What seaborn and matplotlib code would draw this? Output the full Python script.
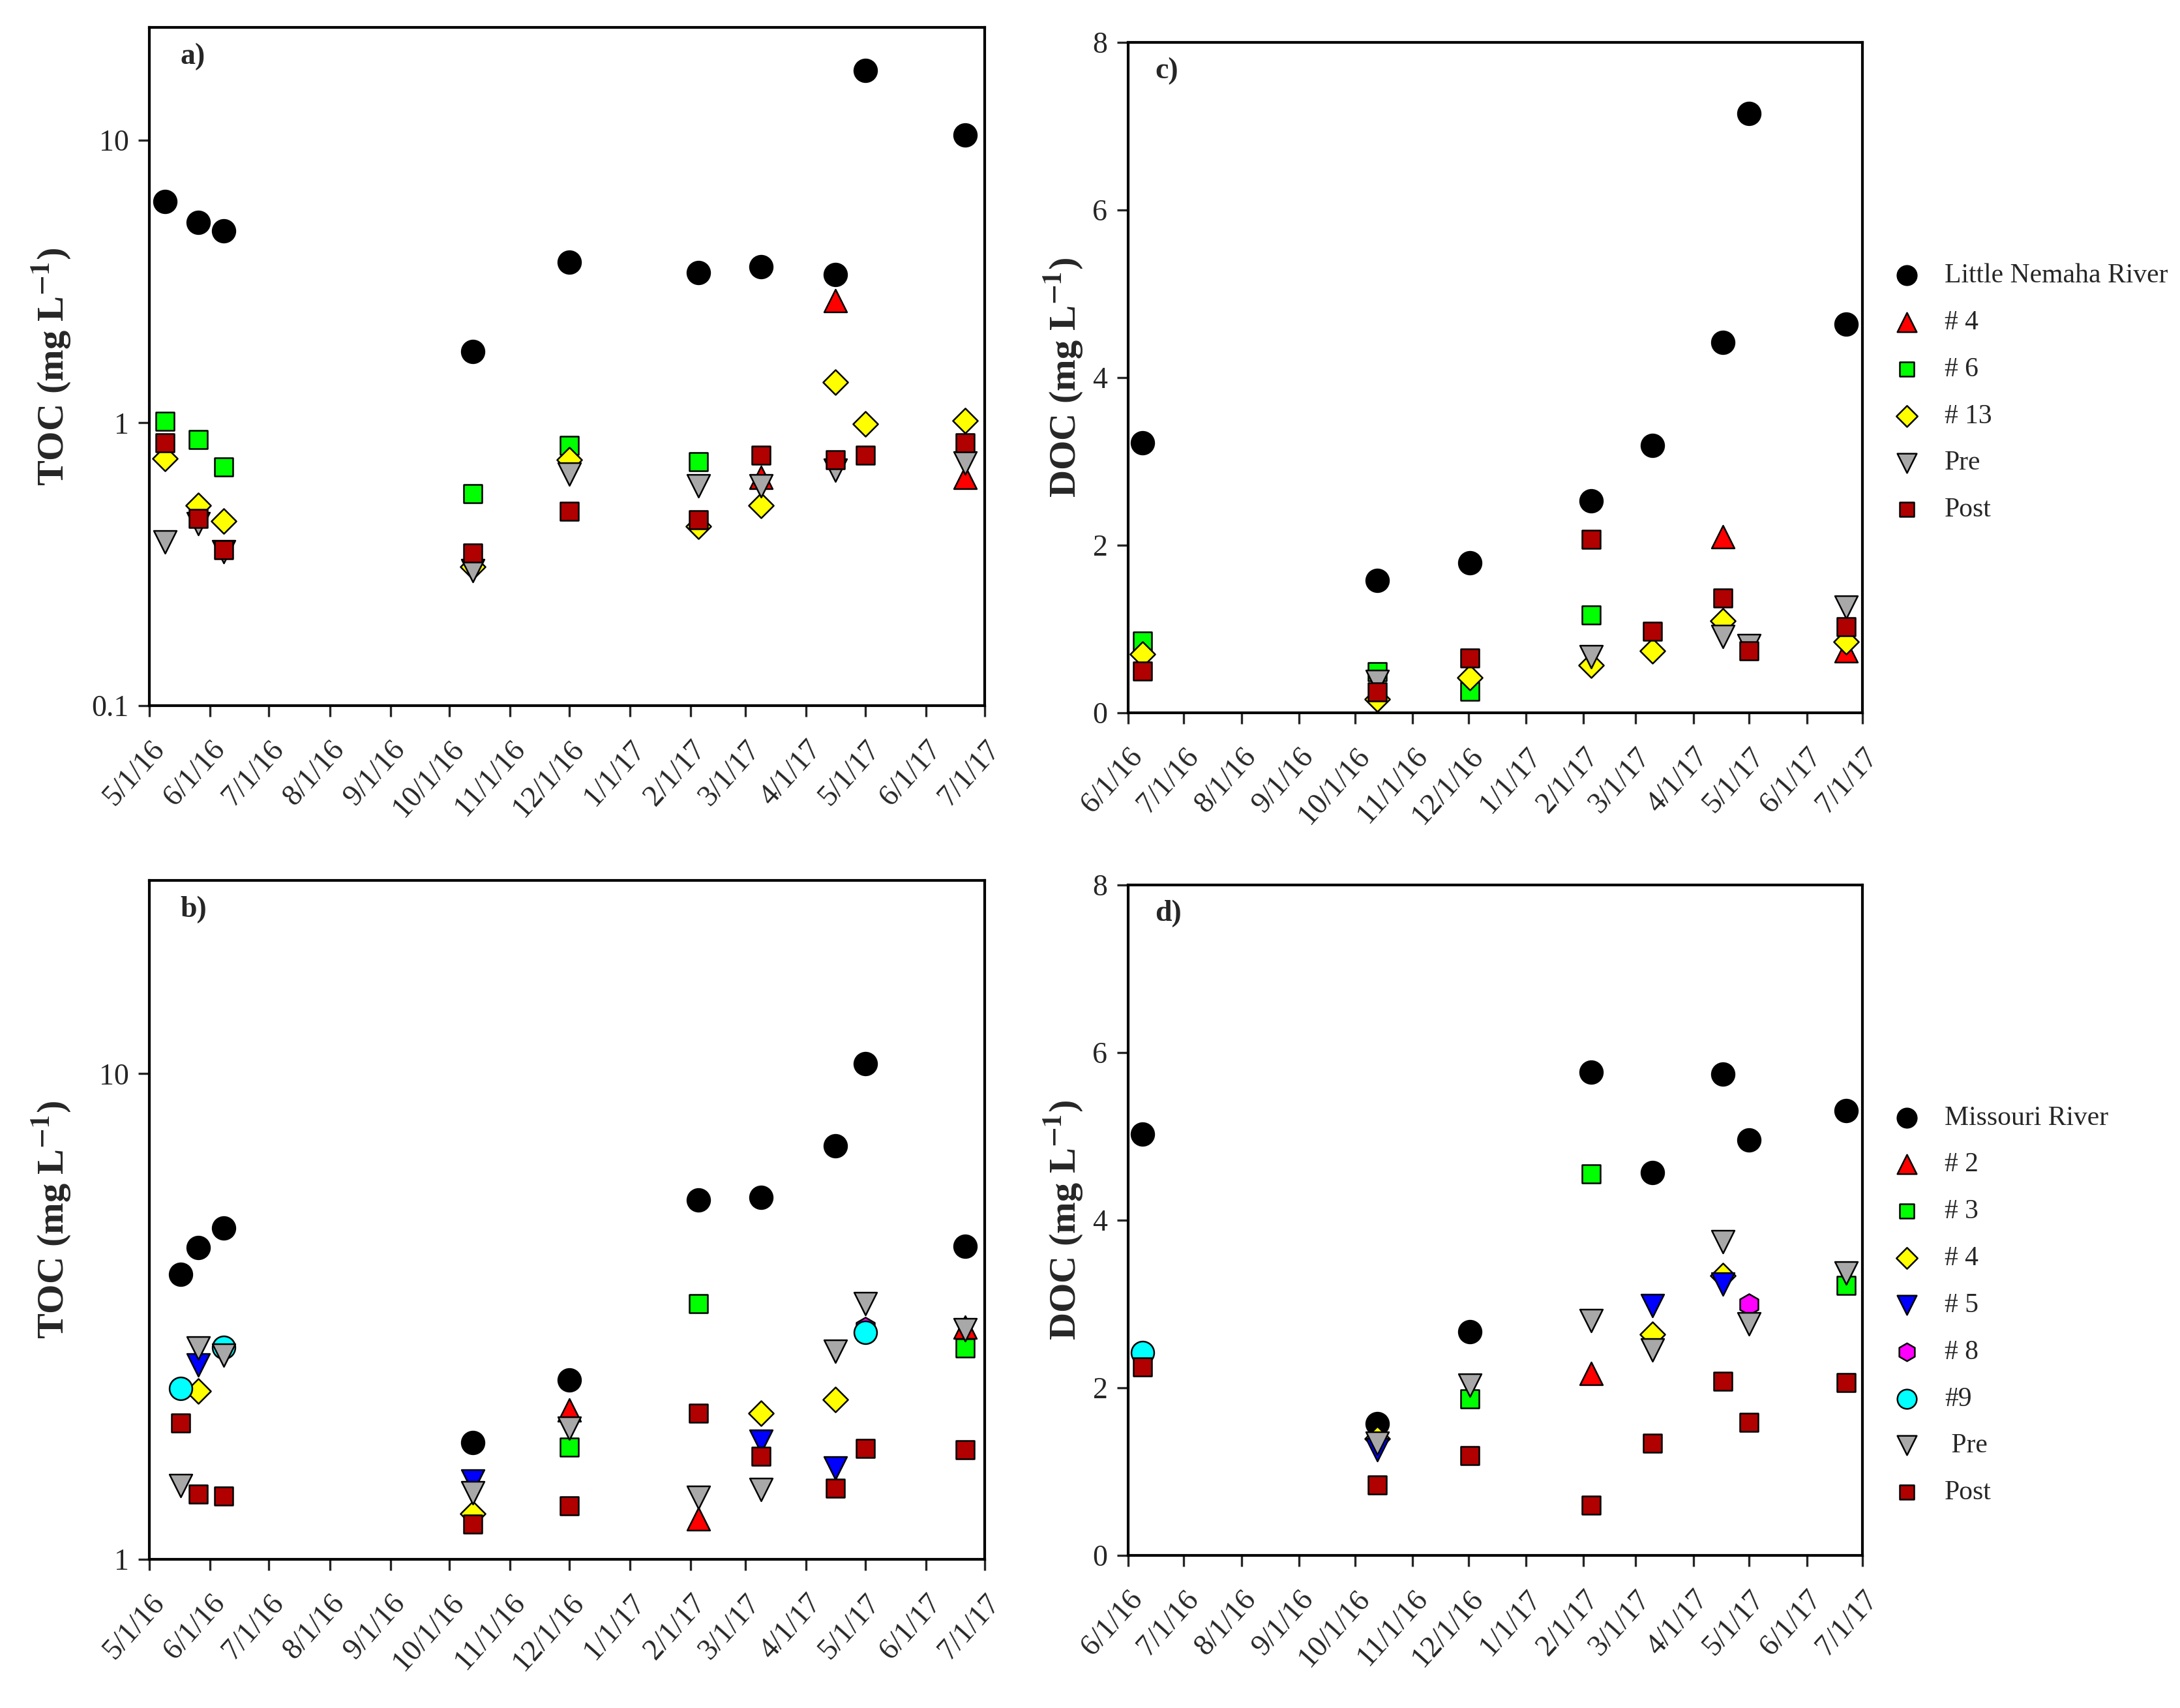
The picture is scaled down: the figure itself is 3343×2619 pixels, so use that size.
import numpy as np
import pandas as pd
import matplotlib
matplotlib.use("Agg")
import matplotlib.pyplot as plt
import matplotlib.dates as mdates
from matplotlib.ticker import NullLocator, FixedLocator, FixedFormatter
import seaborn as sns

nan = np.nan

# sampling dates
lnr_toc_dates = ["2016-05-09", "2016-05-26", "2016-06-08", "2016-10-13", "2016-12-01",
                 "2017-02-05", "2017-03-09", "2017-04-16", "2017-05-01", "2017-06-21"]
mr_toc_dates = ["2016-05-17", "2016-05-26", "2016-06-08", "2016-10-13", "2016-12-01",
                "2017-02-05", "2017-03-09", "2017-04-16", "2017-05-01", "2017-06-21"]
doc_dates = ["2016-06-09", "2016-10-13", "2016-12-02", "2017-02-05",
             "2017-03-10", "2017-04-17", "2017-05-01", "2017-06-22"]

# a) TOC, Little Nemaha River and wetlands
a_river = [6.07, 5.11, 4.78, 1.79, 3.70, 3.40, 3.57, 3.34, 17.6, 10.4]
a_w4 = [nan, nan, nan, nan, nan, nan, 0.64, 2.70, nan, 0.64]
a_w6 = [1.01, 0.872, 0.698, 0.561, 0.83, 0.73, nan, nan, nan, nan]
a_w13 = [0.746, 0.51, 0.45, 0.31, 0.74, 0.43, 0.51, 1.39, 0.99, 1.02]
a_pre = [0.38, 0.44, 0.35, 0.30, 0.66, 0.60, 0.60, 0.68, nan, 0.72]
a_post = [0.85, 0.458, 0.356, 0.346, 0.486, 0.455, 0.767, 0.74, 0.767, 0.85]

# b) TOC, Missouri River and wetlands
b_river = [3.86, 4.38, 4.81, 1.74, 2.34, 5.49, 5.56, 7.10, 10.5, 4.41]
b_w2 = [nan, nan, nan, nan, 2.03, 1.21, nan, nan, nan, 3.01]
b_w3 = [nan, nan, nan, nan, 1.70, 3.36, nan, nan, nan, 2.72]
b_w4 = [nan, 2.22, nan, 1.24, nan, nan, 2.00, 2.13, nan, nan]
b_w5 = [nan, 2.51, nan, 1.45, nan, nan, 1.75, 1.54, nan, nan]
b_w8 = [nan, nan, nan, nan, nan, nan, nan, nan, 3.00, nan]
b_w9 = [2.25, nan, 2.73, nan, nan, nan, nan, nan, 2.93, nan]
b_pre = [1.42, 2.72, 2.63, 1.37, 1.86, 1.34, 1.39, 2.68, 3.36, 2.97]
b_post = [1.91, 1.36, 1.35, 1.18, 1.29, 2.00, 1.63, 1.40, 1.69, 1.68]

# c) DOC, Little Nemaha River and wetlands
c_river = [3.22, 1.575, 1.79, 2.53, 3.19, 4.42, 7.15, 4.64]
c_w4 = [nan, nan, nan, nan, nan, 2.10, nan, 0.74]
c_w6 = [0.856, 0.49, 0.257, 1.17, nan, nan, nan, nan]
c_w13 = [0.70, 0.16, 0.42, 0.57, 0.74, 1.10, nan, 0.845]
c_pre = [nan, 0.37, nan, 0.67, nan, 0.91, 0.80, 1.26]
c_post = [0.50, 0.245, 0.65, 2.07, 0.97, 1.37, 0.74, 1.03]

# d) DOC, Missouri River and wetlands
d_river = [5.03, 1.57, 2.67, 5.77, 4.57, 5.74, 4.96, 5.31]
d_w2 = [nan, nan, nan, 2.17, nan, nan, nan, nan]
d_w3 = [nan, nan, 1.87, 4.55, nan, nan, nan, 3.22]
d_w4 = [nan, 1.39, nan, nan, 2.64, 3.34, nan, nan]
d_w5 = [nan, 1.26, nan, nan, 2.98, 3.24, nan, nan]
d_w8 = [nan, nan, nan, nan, nan, nan, 3.00, nan]
d_w9 = [2.42, nan, nan, nan, nan, nan, nan, nan]
d_pre = [nan, 1.34, 2.03, 2.80, 2.45, 3.74, 2.76, 3.37]
d_post = [2.25, 0.84, 1.19, 0.60, 1.34, 2.08, 1.59, 2.06]

lnr_labels = ["Little Nemaha River", "# 4", "# 6", "# 13", "Pre", "Post"]
mr_labels = ["Missouri River", "# 2", "# 3", "# 4", "# 5", "# 8", "#9", " Pre", "Post"]

toc_ticks = [0.1, 1, 10]
toc_tick_labels = ["0.1", "1", "10"]
doc_ticks = [0, 2, 4, 6, 8]

# marker styles: (face colour, marker, size)
styles = {
    "river": ("#000000", "o", 70),
    "red": ("#FF0000", "^", 70),
    "green": ("#00FF00", "s", 42),
    "yellow": ("#FFFF00", "D", 42),
    "blue": ("#0000FF", "v", 70),
    "magenta": ("#FF00FF", "h", 60),
    "cyan": ("#00FFFF", "o", 70),
    "pre": ("#A8A8A8", "v", 70),
    "post": ("#B00000", "s", 42),
}
lnr_keys = ["river", "red", "green", "yellow", "pre", "post"]
mr_keys = ["river", "red", "green", "yellow", "blue", "magenta", "cyan", "pre", "post"]

sns.set_theme(style="ticks")
plt.rcParams["font.family"] = ["Liberation Serif", "DejaVu Serif"]
plt.rcParams["mathtext.fontset"] = "stix"


def draw_panel(ax, dates, series, labels, keys, legend):
    x = pd.to_datetime(dates)
    for values, label, key in zip(series, labels, keys):
        df = pd.DataFrame({"date": x, "value": values}).dropna()
        color, marker, size = styles[key]
        sns.scatterplot(data=df, x="date", y="value", ax=ax, color=color,
                        marker=marker, s=size, edgecolor="black", linewidth=0.6,
                        label=label if legend else None, legend=False, zorder=3)
    ax.set_xlabel("")
    ax.xaxis.set_major_locator(mdates.MonthLocator())
    ax.xaxis.set_major_formatter(mdates.DateFormatter("%-m/%-d/%y"))
    for lab in ax.get_xticklabels():
        lab.set_rotation(48)
        lab.set_ha("right")
        lab.set_rotation_mode("anchor")
    ax.tick_params(axis="both", direction="out", length=4, width=0.8,
                   labelsize=11, top=False, right=False)
    ax.tick_params(axis="x", pad=7)
    for sp in ax.spines.values():
        sp.set_visible(True)
        sp.set_linewidth(1.0)
        sp.set_color("black")


fig = plt.figure(figsize=(3343 / 300, 2619 / 300), dpi=300)
fig.patch.set_facecolor("white")

ax_a = fig.add_axes([0.0685, 0.5869, 0.3832, 0.3970])
ax_b = fig.add_axes([0.0685, 0.0871, 0.3832, 0.3974])
ax_c = fig.add_axes([0.5174, 0.5827, 0.3370, 0.3926])
ax_d = fig.add_axes([0.5174, 0.0893, 0.3370, 0.3926])

draw_panel(ax_a, lnr_toc_dates, [a_river, a_w4, a_w6, a_w13, a_pre, a_post],
           lnr_labels, lnr_keys, False)
draw_panel(ax_b, mr_toc_dates, [b_river, b_w2, b_w3, b_w4, b_w5, b_w8, b_w9, b_pre, b_post],
           mr_labels, mr_keys, False)
draw_panel(ax_c, doc_dates, [c_river, c_w4, c_w6, c_w13, c_pre, c_post],
           lnr_labels, lnr_keys, True)
draw_panel(ax_d, doc_dates, [d_river, d_w2, d_w3, d_w4, d_w5, d_w8, d_w9, d_pre, d_post],
           mr_labels, mr_keys, True)

for ax, bottom in [(ax_a, 0.1), (ax_b, 1)]:
    ax.set_yscale("log")
    ax.set_ylim(bottom, 25)
    ax.set_xlim(pd.Timestamp("2016-05-01"), pd.Timestamp("2017-07-01"))
    ax.yaxis.set_major_locator(FixedLocator(toc_ticks))
    ax.yaxis.set_major_formatter(FixedFormatter(toc_tick_labels))
    ax.yaxis.set_minor_locator(NullLocator())
    ax.set_ylabel(r"TOC (mg L$^{\mathbf{-1}}$)", fontsize=14, fontweight="bold")
    ax.yaxis.set_label_coords(-0.091, 0.5)

for ax in [ax_c, ax_d]:
    ax.set_ylim(0, 8)
    ax.set_xlim(pd.Timestamp("2016-06-01"), pd.Timestamp("2017-07-01"))
    ax.set_yticks(doc_ticks)
    ax.set_yticklabels([str(t) for t in doc_ticks])
    ax.set_ylabel(r"DOC (mg L$^{\mathbf{-1}}$)", fontsize=14, fontweight="bold")
    ax.yaxis.set_label_coords(-0.058, 0.5)

for ax, tag in [(ax_a, "a)"), (ax_b, "b)"), (ax_c, "c)"), (ax_d, "d)")]:
    ax.text(0.037, 0.957, tag, transform=ax.transAxes, fontsize=11,
            fontweight="bold", va="center", ha="left")

legend_kw = dict(loc="center left", frameon=False, fontsize=10, handlelength=1.0,
                 handletextpad=0.9, labelspacing=0.8, borderpad=0.4, markerscale=0.85)
ax_c.legend(bbox_to_anchor=(1.008, 0.477), **legend_kw)
ax_d.legend(bbox_to_anchor=(1.008, 0.373), **legend_kw)

fig.savefig("out.png", dpi=300, facecolor="white")
